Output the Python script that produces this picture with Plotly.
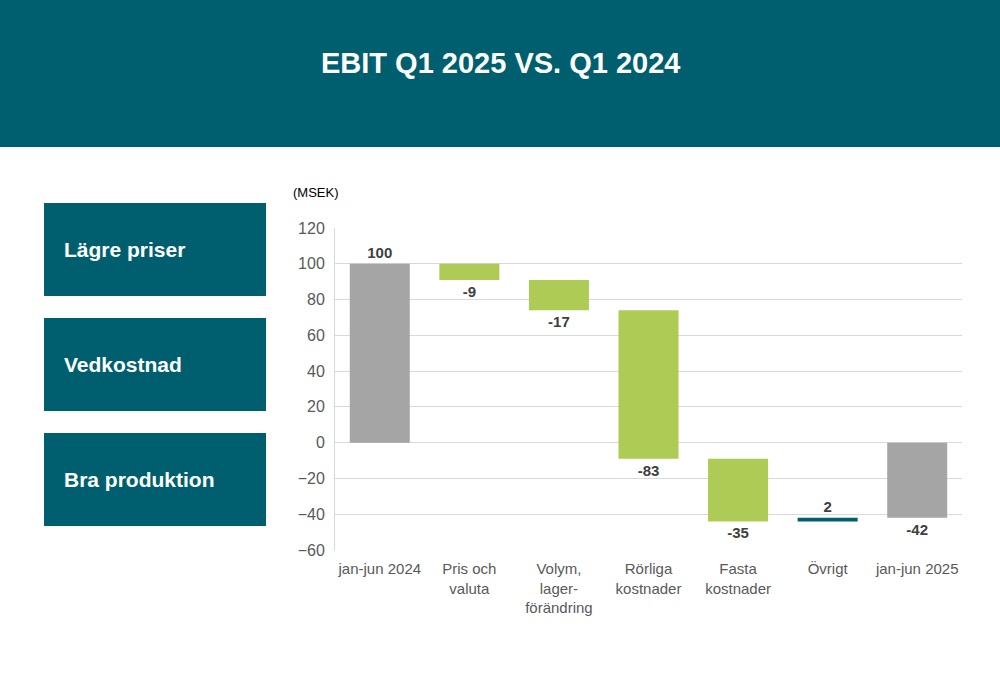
import plotly.graph_objects as go

categories = ["jan-jun 2024", "Pris och<br>valuta", "Volym,<br>lager-<br>förändring",
              "Rörliga<br>kostnader", "Fasta<br>kostnader", "Övrigt", "jan-jun 2025"]
values = [100, -9, -17, -83, -35, 2, -42]
measures = ["absolute", "relative", "relative", "relative", "relative", "relative", "total"]
labels = ["100", "-9", "-17", "-83", "-35", "2", "-42"]
y_ticks = [-60, -40, -20, 0, 20, 40, 60, 80, 100, 120]
boxes = ["Lägre priser", "Vedkostnad", "Bra produktion"]

TEAL = "#005F6E"
GREEN = "#ADCB55"
GRAY = "#A5A5A5"
FONT = "Liberation Sans Narrow, Arial Narrow, Liberation Sans, Arial"

fig = go.Figure(go.Waterfall(
    x=categories, y=values, measure=measures,
    text=labels, textposition="outside",
    textfont=dict(family=FONT, size=15, color="#404040"),
    texttemplate="<b>%{text}</b>",
    increasing=dict(marker=dict(color=TEAL)),
    decreasing=dict(marker=dict(color=GREEN)),
    totals=dict(marker=dict(color=GRAY)),
    connector=dict(visible=False),
    width=0.67,
    cliponaxis=False,
    hoverinfo="skip",
))

shapes = [dict(type="rect", xref="paper", yref="paper", x0=-1, x1=2, y0=1 + (228 - 147) / 322,
               y1=1 + 240 / 322, fillcolor=TEAL, line=dict(width=0), layer="below")]
annotations = [dict(text="<b>EBIT Q1 2025 VS. Q1 2024</b>", xref="paper", yref="paper",
                    x=(500 - 335) / 627, y=1 + (228 - 63) / 322, showarrow=False,
                    font=dict(family="Liberation Sans", size=29, color="white"),
                    xanchor="center", yanchor="middle"),
               dict(text="(MSEK)", xref="paper", yref="paper", x=(291 - 335) / 627,
                    y=1 + (228 - 192) / 322, showarrow=False, xanchor="left", yanchor="middle",
                    font=dict(family=FONT, size=13, color="#000000"))]
box_tops = [203, 318, 433]
for b, top in zip(boxes, box_tops):
    y0 = 1 - (top + 93 - 228) / 322
    y1 = 1 - (top - 228) / 322
    shapes.append(dict(type="rect", xref="paper", yref="paper", x0=(44 - 335) / 627,
                       x1=(266 - 335) / 627, y0=y0, y1=y1, fillcolor=TEAL,
                       line=dict(width=0)))
    annotations.append(dict(text="<b>" + b + "</b>", xref="paper", yref="paper",
                            x=(62 - 335) / 627, y=(y0 + y1) / 2, showarrow=False,
                            xanchor="left", yanchor="middle",
                            font=dict(family="Liberation Sans", size=21, color="white")))

fig.update_layout(
    width=1000, height=685,
    margin=dict(l=335, r=38, t=228, b=135),
    paper_bgcolor="white", plot_bgcolor="white",
    showlegend=False,
    shapes=shapes, annotations=annotations,
    xaxis=dict(showgrid=False, showline=False, ticks="", tickangle=0, ticklabelstandoff=8,
               tickfont=dict(family=FONT, size=15, color="#595959")),
    yaxis=dict(range=[-60, 120], tickvals=y_ticks, showgrid=True, gridcolor="#D9D9D9",
               gridwidth=1, zeroline=True, zerolinecolor="#D9D9D9", zerolinewidth=1,
               showline=True, linecolor="#D9D9D9", ticks="", ticklabelstandoff=6,
               tickfont=dict(family=FONT, size=16, color="#595959")),
)

fig.write_html("out.html", config={"displayModeBar": False},
               post_script="document.body.style.margin='0';document.body.style.overflow='hidden';")
